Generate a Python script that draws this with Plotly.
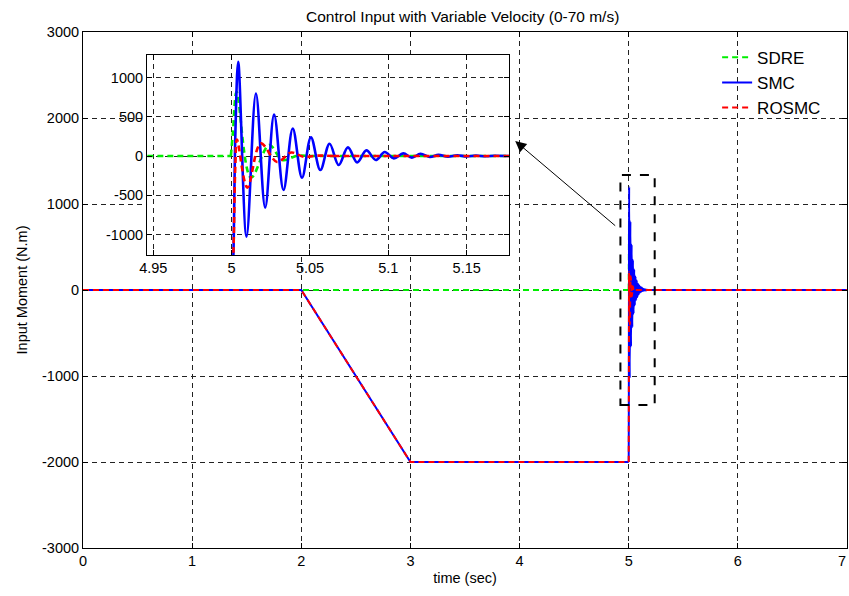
import plotly.graph_objects as go

# ---------------- data ----------------
sdre_t = [0, 4.9995, 5.0008, 5.0032, 5.0123, 5.0240, 5.0324, 5.0420, 5.0500, 7]
sdre_v = [0, 0, 300, 818, -275, 140, -50, 5, 0, 0]

smc_t = [0, 2, 3, 5.0, 5.0012, 5.0024, 5.0042, 5.0095, 5.0155, 5.0214, 5.0271,
         5.0331, 5.0390, 5.0449, 5.0506, 5.0566, 5.0625, 5.0683, 5.0742, 5.0801,
         5.0860, 5.0920, 5.0977, 5.1035, 5.1095, 5.1150, 5.1205, 5.1265, 5.1320,
         5.1380, 5.1440, 5.1500, 5.1560, 5.1620, 5.1680, 5.1750, 7]
smc_v = [0, 0, -2000, -2000, -1200, 300, 1200, -1027, 798, -657, 530,
         -433, 352, -276, 238, -178, 157, -115, 110, -81,
         72, -51, 51, -30, 34, -20, 28, -12, 15,
         -8, 10, -5, 6, -3, 3, 0, 0]

rosmc_t = [0, 2, 3, 5.0, 5.0012, 5.0024, 5.0034, 5.0100, 5.0186, 5.0290,
           5.0380, 5.0460, 5.0550, 5.0650, 7]
rosmc_v = [0, 0, -2000, -2000, -1200, -100, 210, -403, 161, -75,
           45, -10, 5, 0, 0]

x_ticks = [0, 1, 2, 3, 4, 5, 6, 7]
y_ticks = [-3000, -2000, -1000, 0, 1000, 2000, 3000]
y_labels = ["-3000", "-2000", "-1000", "0", "1000", "2000", "3000"]
ix_ticks = [4.95, 5, 5.05, 5.1, 5.15]
ix_labels = ["4.95", "5", "5.05", "5.1", "5.15"]
iy_ticks = [-1000, -500, 0, 500, 1000]
iy_labels = ["-1000", "-500", "0", "500", "1000"]

names = ["SDRE", "SMC", "ROSMC"]
colors = ["#00ee00", "#0000ff", "#ff0000"]
dashes = ["6px,4px", "solid", "6px,4px"]
series = [(sdre_t, sdre_v), (smc_t, smc_v), (rosmc_t, rosmc_v)]

FONT = "Liberation Sans, Arial, sans-serif"
OSC_START, OSC_END = 4.9995, 5.19


def split(t, v):
    """piecewise-linear parts outside the transient, smooth part inside it"""
    pre = [(a, b) for a, b in zip(t, v) if a <= OSC_START + 0.0006]
    osc = [(a, b) for a, b in zip(t, v) if OSC_START - 1e-9 <= a <= OSC_END]
    last_osc = osc[-1][0]
    post = [(a, b) for a, b in zip(t, v) if a >= last_osc]
    return pre, osc, post


fig = go.Figure()

for ax_x, ax_y, width, legend in (("x", "y", 2, True), ("x2", "y2", 2.6, False)):
    for (t, v), n, c, d in zip(series, names, colors, dashes):
        pre, osc, post = split(t, v)
        for k, (seg, shape) in enumerate(((pre, "linear"), (osc, "spline"), (post, "linear"))):
            fig.add_trace(go.Scatter(
                x=[p[0] for p in seg], y=[p[1] for p in seg], name=n, mode="lines",
                legendgroup=n,
                line=dict(color=c, width=width, dash=d, shape=shape),
                xaxis=ax_x, yaxis=ax_y, showlegend=(legend and k == 0)))

axis_common = dict(
    showline=True, linecolor="black", linewidth=1, mirror="ticks",
    ticks="inside", ticklen=5, tickcolor="black",
    showgrid=True, gridcolor="#222222", gridwidth=0.7, griddash="5px,4px",
    zeroline=False, tickfont=dict(family=FONT, size=14.5, color="black"),
)

fig.update_layout(
    width=849, height=596,
    margin=dict(l=83, r=2, t=32, b=48),
    paper_bgcolor="white", plot_bgcolor="white",
    font=dict(family=FONT, color="black"),
    title=dict(text="Control Input with Variable Velocity (0-70 m/s)",
               x=0.545, xanchor="center", y=0.973, yanchor="middle",
               yref="container", font=dict(size=15.5, family=FONT)),
    xaxis=dict(range=[0, 7], tickvals=x_ticks, domain=[0, 1],
               title=dict(text="time (sec)", font=dict(size=14.5), standoff=4),
               **axis_common),
    yaxis=dict(range=[-3000, 3000], tickvals=y_ticks, ticktext=y_labels, domain=[0, 1],
               title=dict(text="Input Moment (N.m)", font=dict(size=14.5), standoff=10),
               **axis_common),
    xaxis2=dict(range=[4.946, 5.177], tickvals=ix_ticks, ticktext=ix_labels,
                domain=[0.0838, 0.5576], anchor="y2", **axis_common),
    yaxis2=dict(range=[-1260, 1285], tickvals=iy_ticks, ticktext=iy_labels,
                domain=[0.568, 0.955], anchor="x2", **axis_common),
    legend=dict(x=0.83, y=0.985, xanchor="left", yanchor="top",
                bgcolor="rgba(255,255,255,0)", borderwidth=0,
                font=dict(size=17, family=FONT), tracegroupgap=0),
    showlegend=True,
)

# dashed zoom box
fig.add_shape(type="rect", xref="x", yref="y", x0=4.924, x1=5.238, y0=-1337, y1=1337,
              line=dict(color="black", width=2, dash="dash"), fillcolor="rgba(0,0,0,0)")

# arrow from box to inset
fig.add_annotation(x=3.96, y=1733, ax=4.89, ay=733, xref="x", yref="y",
                   axref="x", ayref="y", text="", showarrow=True,
                   arrowhead=2, arrowsize=2.2, arrowwidth=1, arrowcolor="black")

# last x tick label, nudged just inside the figure edge
fig.add_annotation(x=x_ticks[-1], y=0, xref="x", yref="paper", yanchor="top",
                   xanchor="right", xshift=1, yshift=-3, showarrow=False,
                   text=str(x_ticks[-1]),
                   font=dict(family=FONT, size=14.5, color="black"))

fig.write_html("out.html", config={"displayModeBar": False},
               post_script="document.body.style.margin='0';")
